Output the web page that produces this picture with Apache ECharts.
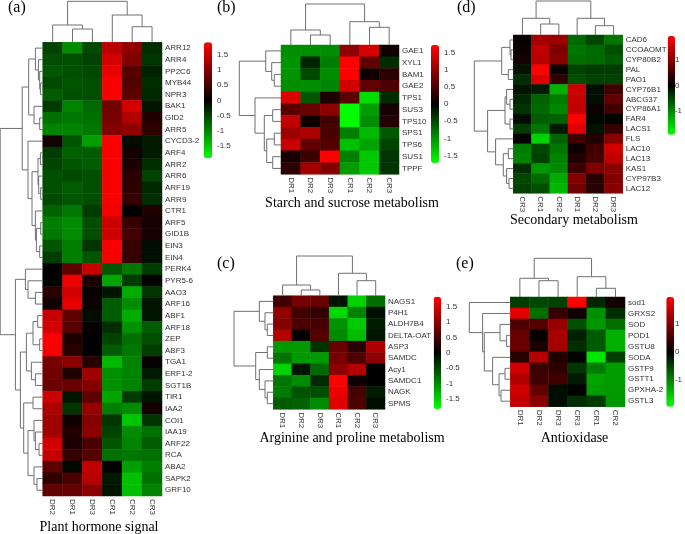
<!DOCTYPE html>
<html><head><meta charset="utf-8">
<style>html,body{margin:0;padding:0;background:#fff}#c{width:685px;height:534px}</style>
<script src="https://cdn.jsdelivr.net/npm/echarts@6/dist/echarts.min.js"></script></head>
<body><div id="c"></div>
<script>
const rowsA=["ARR12","ARR4","PP2C6","MYB44","NPR3","BAK1","GID2","ARR5","CYCD3-2","ARF4","ARR2","ARR6","ARF19","ARR9","CTR1","ARF5","GID1B","EIN3","EIN4","PERK4","PYR5-6","AAO3","ARF16","ABF1","ARF18","ZEP","ABF3","TGA1","ERF1-2","SGT1B","TIR1","IAA2","COI1","IAA19","ARF22","RCA","ABA2","SAPK2","GRF10"];
const colsA=["DR2","DR1","DR3","CR1","CR2","CR3"];
const valuesA=[
[-0.5,-1.05,-0.55,1.4,1.1,-0.35],[-0.6,-0.6,-0.5,1.6,0.95,-0.4],[-0.65,-0.6,-0.55,1.75,0.65,-0.25],[-0.55,-0.65,-0.6,1.9,0.6,-0.35],[-0.7,-0.6,-0.6,1.9,0.7,-0.3],
[-0.45,-1.0,-0.8,0.85,1.6,-0.15],[-0.85,-0.9,-0.85,0.9,1.35,0.25],[-1.0,-1.0,-0.9,1.0,1.1,0.35],[0.15,-0.65,-1.2,1.9,-0.1,-0.2],[-0.45,-0.75,-0.7,1.9,0.15,-0.2],
[-0.5,-0.65,-0.7,1.9,0.2,-0.35],[-0.6,-0.55,-0.6,1.9,0.3,-0.5],[-0.6,-0.7,-0.6,1.9,0.35,-0.3],[-0.55,-0.65,-0.6,1.9,0.4,-0.35],[-0.75,-0.9,-0.45,1.85,0,0.25],
[-0.95,-1.05,-0.6,1.55,0.4,0.15],[-0.9,-1.05,-0.6,1.55,0.5,0.15],[-0.65,-0.95,-0.4,1.9,0.4,-0.1],[-0.45,-0.95,-0.65,1.85,0.4,-0.12],
[0,0.7,1.5,-0.65,-0.9,-0.45],[-0.03,1.8,0.2,-1.25,-0.45,-0.02],[0.3,1.6,0.05,-0.15,-1.3,-0.4],[0.12,1.75,0.1,-0.7,-1.05,-0.15],[1.5,0.7,-0.1,-0.7,-1.3,-0.15],
[1.6,0.65,0.03,-0.35,-1.1,-0.7],[1.9,0.2,0,-0.5,-0.85,-0.6],[1.85,0.3,0,-0.7,-0.9,-0.45],[0.9,1.05,0.3,-1.4,-1.0,0.05],[0.85,0.25,1.2,-1.1,-1.0,-0.2],
[0.8,0.8,1.0,-1.1,-1.0,-0.45],[1.55,-0.15,0.7,-1.25,-0.45,-0.15],[1.3,-0.4,1.15,-0.95,-1.05,0.15],[1.2,0.1,1.0,-0.4,-1.5,-0.4],[1.2,0.25,1.05,-0.5,-1.05,-0.85],
[1.6,0.2,0.55,-0.65,-1.0,-0.7],[1.5,0.4,0.65,-0.85,-0.9,-0.85],[0.7,-0.05,1.45,0.03,-1.2,-0.95],[0.35,0.55,1.4,-0.2,-1.45,-0.85],[0.75,0.75,1.05,-0.15,-1.45,-1.0]];
const rowsB=["GAE1","XYL1","BAM1","GAE2","TPS1","SUS3","TPS10","SPS1","TPS6","SUS1","TPPF"];
const colsB=["DR1","DR2","DR3","CR1","CR2","CR3"];
const valuesB=[
[-0.95,-0.95,-0.95,0.95,1.45,0.1],[-1.0,-0.25,-0.85,1.72,0.65,-0.3],[-1.0,-0.5,-0.95,1.72,0.1,0.3],[-0.95,-0.95,-0.9,1.4,0.65,0.5],[1.5,-0.6,0.2,0.6,-1.5,-0.3],
[0.6,0.7,0.95,-1.7,-1.05,0.15],[1.3,0.1,0.45,-1.7,-0.95,0.25],[1.05,1.15,0.5,-0.85,-1.25,-0.6],[1.35,0.65,0.55,-1.3,-1.1,-0.45],[0.15,0.4,1.72,-0.85,-1.35,-0.35],[0.3,1.1,0.9,-1.05,-1.35,-0.35]];
const rowsC=["NAGS1","P4H1","ALDH7B4","DELTA-OAT","ASP3","SAMDC","Acy1","SAMDC1","NAGK","SPMS"];
const colsC=["DR1","DR2","DR3","CR1","CR2","CR3"];
const valuesC=[
[0.45,0.85,0.75,-0.15,-1.5,-0.8],[1.05,0.45,0.35,-1.55,-0.95,-0.1],[0.95,0.55,0.5,-1.05,-1.45,-0.2],[1.3,0.05,0.6,-1.0,-1.35,-0.15],[-1.1,-1.1,-0.35,0.75,0.3,1.25],
[-0.85,-1.1,-1.1,0.85,0.55,1.0],[-1.5,-0.15,-0.75,1.0,1.3,0],[-0.85,-1.0,-0.3,1.83,0.1,0],[-0.9,-0.6,-0.55,1.7,0.5,-0.2],[-0.65,-0.7,-1.0,1.6,0.55,-0.1]];
const rowsD=["CAD6","CCOAOMT","CYP80B2","PAL","PAO1","CYP76B1","ABCG37","CYP86A1","FAR4","LACS1","FLS","LAC10","LAC13","KAS1","CYP97B3","LAC12"];
const colsD=["CR3","CR1","CR2","DR1","DR2","DR3"];
const valuesD=[
[0.05,1.25,1.2,-0.8,-0.55,-0.9],[0.1,1.45,0.95,-0.9,-0.8,-0.6],[0.15,1.4,1.05,-0.85,-0.8,-0.7],[-0.15,1.95,0.1,-0.5,-0.45,-0.45],[-0.35,1.7,0.35,-0.6,-0.5,-0.5],
[-0.15,-0.2,-1.35,1.55,-0.1,0.5],[-0.3,-0.75,-0.95,1.5,-0.12,0.75],[-0.4,-0.8,-1.05,1.45,0.1,0.5],[-0.1,-0.7,-0.75,1.95,-0.05,-0.03],[-0.45,-0.9,-0.2,1.7,-0.15,0.4],
[0.03,-1.6,-0.75,0.5,0.25,1.05],[-0.95,-0.55,-0.9,0.1,0.5,1.6],[-1.0,-0.5,-1.0,0.25,0.55,1.45],[-0.35,-1.15,-1.05,0.45,0.95,1.05],[-0.55,-0.8,-1.3,1.0,0.3,1.0],[-0.5,-0.6,-1.4,0.85,0.3,1.05]];
const rowsE=["sod1","GRXS2","SOD","POD1","GSTU8","SODA","GSTF9","GSTT1","GPXHA-2","GSTL3"];
const colsE=["DR1","DR2","DR3","CR3","CR1","CR2"];
const valuesE=[
[-0.45,-0.55,-0.5,1.95,-0.3,0.15],[1.75,-0.85,0.4,0.15,-1.1,-0.35],[0.6,0.65,1.15,-0.6,-1.15,-0.85],[0.8,0.05,1.3,-0.25,-0.7,-1.35],[0.8,0.2,1.25,-0.35,-0.7,-1.35],
[0.3,1.4,0.25,-0.02,-1.75,-0.5],[1.6,0.45,0.35,-0.4,-0.95,-1.2],[1.35,0.5,0.5,-0.2,-1.25,-1.2],[1.6,0.75,-0.1,0,-1.2,-1.15],[1.5,1.05,-0.1,-0.35,-0.45,-1.15]];

// Dendrograms: [mergeHeight, left, right]; 0 = next leaf in display order
const colTreeA=[41,[17.3,0,[13.3,0,0]],[27.3,0,[15.6,0,0]]];
const rowTreeA=[42.5,
 [20.5,[14,[7.3,0,[4.3,0,[3,0,[2.3,0,0]]]],[8.7,0,[3,0,0]]],[14.7,0,[10.7,[4.7,[2.3,0,0],[4,0,[2,0,0]]],[7.3,0,[6.3,[2,0,0],[3,0,0]]]]]],
 [27.3,[17.3,0,[14.7,0,[7.3,0,0]]],[22.3,[16.3,[9.7,[5,0,0],[3,0,0]],[11.3,0,[7.3,0,0]]],[19,[9.7,0,0],[14.7,[8.7,0,[7.3,0,[3.7,0,0]]],[8.7,0,[5.7,0,0]]]]]]];
const colTreeB=[41,[15,0,[10,0,0]],[23.3,0,[17.7,0,0]]];
const rowTreeB=[41.7,[15.3,0,[9.3,0,[6.7,0,0]]],[26,0,[16.7,[8.3,0,0],[14.3,[6.7,0,0],[8.3,0,0]]]]];
const colTreeC=[39.7,[10.7,0,[5.7,0,0]],[22.4,0,[15,0,0]]];
const rowTreeC=[39.3,[14,0,[8.3,0,[6,0,0]]],[17.6,[6,0,0],[14,0,[8.3,0,[6,0,0]]]]];
const colTreeD=[34,[16.7,0,[11,0,0]],[16.7,0,[9.3,0,0]]];
const rowTreeD=[39,[11.6,[3.3,0,[2.3,0,0]],[5,0,0]],[25.7,[8.3,[6.7,0,[3.3,0,0]],[3.3,0,0]],[17.7,0,[10,[5,0,0],[6.7,0,[4.3,0,0]]]]]];
const colTreeE=[38.7,[18.7,0,[16.3,0,0]],[20.3,0,[8.7,0,0]]];
const rowTreeE=[41,0,[27.7,0,[26,[10.3,0,[3.7,0,0]],[17.7,0,[11.3,[5.3,0,0],[9.3,0,0]]]]]];

const ticksFine=[-1.5,-1,-0.5,0,0.5,1,1.5];
const ticksCoarse=[-1,0,1];
const panelTitles=["Plant hormone signal","Starch and sucrose metabolism","Arginine and proline metabolism","Secondary metabolism","Antioxidase"];
const panelLetters=["(a)","(b)","(c)","(d)","(e)"];

const panels=[
 {rows:rowsA,cols:colsA,vals:valuesA,rowTree:rowTreeA,colTree:colTreeA,ticks:ticksFine,vmax:1.93,h:{l:42.7,t:42.3,w:119.3,h:453.7},bar:{l:204,t:42.3,w:8,h:116},title:[99,520],letter:[8,0]},
 {rows:rowsB,cols:colsB,vals:valuesB,rowTree:rowTreeB,colTree:colTreeB,ticks:ticksFine,vmax:1.72,h:{l:281,t:45,w:118,h:129.3},bar:{l:431,t:45,w:8,h:118},title:[352,196],letter:[217,0]},
 {rows:rowsC,cols:colsC,vals:valuesC,rowTree:rowTreeC,colTree:colTreeC,ticks:ticksFine,vmax:1.83,h:{l:273.3,t:295.7,w:111.7,h:113.6},bar:{l:433.7,t:296.7,w:7.3,h:112.3},title:[352,431],letter:[217,256]},
 {rows:rowsD,cols:colsD,vals:valuesD,rowTree:rowTreeD,colTree:colTreeD,ticks:ticksCoarse,vmax:1.95,h:{l:513.3,t:35,w:109.4,h:158.3},bar:{l:667.7,t:36,w:7.3,h:98.7},title:[574,213],letter:[457,0]},
 {rows:rowsE,cols:colsE,vals:valuesE,rowTree:rowTreeE,colTree:colTreeE,ticks:ticksCoarse,vmax:1.96,h:{l:510.3,t:297,w:114.7,h:109.7},bar:{l:666.3,t:297,w:7.7,h:109.7},title:[574.5,431],letter:[456,256]}
];

const LABEL='#333',SANS='"Liberation Sans",Arial,sans-serif',SERIF='"Liberation Serif","Times New Roman",serif',TREE='#707070';
const opt={animation:false,backgroundColor:'#fff',title:[],grid:[],xAxis:[],yAxis:[],series:[],visualMap:[]};

function links(tree){
  let i=0;const out=[];
  (function walk(n){
    if(!Array.isArray(n)) return [i++ +0.5,0];
    const a=walk(n[1]),b=walk(n[2]);
    out.push([a[0],a[1],b[0],b[1],n[0]]);
    return [(a[0]+b[0])/2,n[0]];
  })(tree);
  return out;
}
function addGrid(rect,xa,ya){
  const g=opt.grid.length;
  opt.grid.push({left:rect.l,top:rect.t,width:rect.w,height:rect.h,containLabel:false,show:false});
  opt.xAxis.push(Object.assign({gridIndex:g},xa));
  opt.yAxis.push(Object.assign({gridIndex:g},ya));
  return g;
}
const hidden={show:false,type:'value'};
function addDendro(rect,tree,isRow,span,H){
  const g=isRow
   ?addGrid(rect,{...hidden,min:0,max:H,inverse:true},{...hidden,min:0,max:span,inverse:true})
   :addGrid(rect,{...hidden,min:0,max:span},{...hidden,min:0,max:H});
  opt.series.push({type:'custom',xAxisIndex:g,yAxisIndex:g,silent:true,clip:false,data:links(tree),
   renderItem(p,api){
    const v=[0,1,2,3,4].map(k=>api.value(k));
    const c=(pos,h)=>isRow?api.coord([h,pos]):api.coord([pos,h]);
    return {type:'polyline',shape:{points:[c(v[0],v[1]),c(v[0],v[4]),c(v[2],v[4]),c(v[2],v[3])]},style:{stroke:TREE,lineWidth:1,fill:'none'},silent:true};
   }});
}
panels.forEach((P,pi)=>{
  const h=P.h;
  const g=addGrid(h,
   {type:'category',data:P.cols,position:'bottom',axisLine:{show:false},axisTick:{show:false},splitLine:{show:false},
    axisLabel:{rotate:-90,margin:3,fontSize:8,fontFamily:SANS,color:LABEL,interval:0}},
   {type:'category',data:P.rows,inverse:true,position:'right',axisLine:{show:false},axisTick:{show:false},splitLine:{show:false},
    axisLabel:{margin:3,fontSize:8,fontFamily:SANS,color:LABEL,interval:0}});
  const data=[];
  P.vals.forEach((r,y)=>r.forEach((v,x)=>data.push([x,y,v])));
  const si=opt.series.length;
  opt.series.push({type:'heatmap',xAxisIndex:g,yAxisIndex:g,data,silent:true,emphasis:{disabled:true},itemStyle:{borderWidth:0}});
  opt.visualMap.push({type:'continuous',seriesIndex:si,min:-P.vmax,max:P.vmax,calculable:false,hoverLink:false,orient:'vertical',
    left:P.bar.l,top:P.bar.t,itemWidth:P.bar.w,itemHeight:P.bar.h,padding:0,text:null,
    inRange:{color:['#00ff00','#000000','#ff0000']}});
  addGrid(P.bar,{...hidden,min:0,max:1},
   {type:'value',position:'right',min:-P.vmax,max:P.vmax,axisLine:{show:false},axisTick:{show:false},splitLine:{show:false},
    axisLabel:{margin:5,fontSize:8,fontFamily:SANS,color:LABEL,customValues:P.ticks,formatter:v=>String(v)}});
  // dendrograms
  addDendro({l:h.l,t:0,w:h.w,h:h.t},P.colTree,false,P.cols.length,h.t);
  addDendro({l:0,t:h.t,w:h.l,h:h.h},P.rowTree,true,P.rows.length,h.l);
  opt.title.push({text:panelTitles[pi],left:P.title[0],top:P.title[1],textAlign:'center',padding:0,
    textStyle:{fontFamily:SERIF,fontSize:14,fontWeight:'normal',color:'#000'}});
  opt.title.push({text:panelLetters[pi],left:P.letter[0],top:P.letter[1],padding:0,
    textStyle:{fontFamily:SERIF,fontSize:16,fontWeight:'normal',color:'#000'}});
});
echarts.init(document.getElementById('c'),null,{renderer:'canvas'}).setOption(opt);
</script></body></html>
